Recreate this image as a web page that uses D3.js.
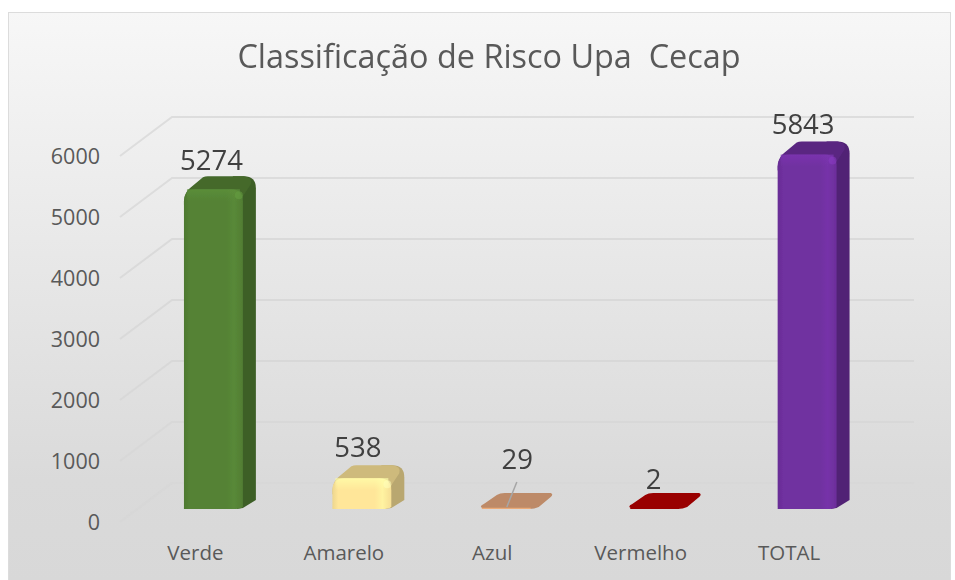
<!DOCTYPE html>
<html><head><meta charset="utf-8">
<script src="https://cdn.jsdelivr.net/npm/d3@7/dist/d3.min.js"></script>
<style>html,body{margin:0;padding:0;background:#fff}svg{display:block}text{font-family:"Open Sans",sans-serif}</style>
</head><body><div id="c"></div>
<script>
const categories=["Verde","Amarelo","Azul","Vermelho","TOTAL"];
const values=[5274,538,29,2,5843];
const yTicks=[0,1000,2000,3000,4000,5000,6000];
const frontColors=["#548235","#FFE699","#E09E6E","#990000","#7030A0"];
const titleText="Classificação de Risco Upa  Cecap";
const W=955,H=580;
const svg=d3.select("#c").append("svg").attr("width",W).attr("height",H);
const defs=svg.append("defs");
const bg=defs.append("linearGradient").attr("id","bg").attr("x1",0).attr("y1",0).attr("x2",0).attr("y2",1);
bg.append("stop").attr("offset",0).attr("stop-color","#f7f7f7");
bg.append("stop").attr("offset",0.82).attr("stop-color","#dadada");
bg.append("stop").attr("offset",1).attr("stop-color","#d8d8d8");
defs.append("filter").attr("id","soft").append("feGaussianBlur").attr("stdDeviation",0.7);
svg.append("rect").attr("x",8.5).attr("y",12.5).attr("width",942).attr("height",570).attr("fill","url(#bg)").attr("stroke","#dcdcdc");

const x=d3.scaleBand().domain(categories).range([109.75,910.8]).paddingInner(0.603).paddingOuter(0.5);
const y=d3.scaleLinear().domain([0,6000]).range([509,143]);
const dx=13,dy=-11;

const grid=svg.append("g");
grid.selectAll("path").data(yTicks).join("path")
 .attr("fill","none").attr("stroke",d=>d3.interpolateRgb("#d5d5d5","#dddddd")(d/6000))
 .attr("stroke-width",2)
 .attr("opacity",d=>d===0?0.5:d===1000?0.7:1)
 .attr("d",d=>{const v=y(d);return d3.line()([[120,v+13],[172,v-26],[914,v-26]]);});

const axis=d3.axisLeft(y).tickValues(yTicks).tickSize(0).tickPadding(0).tickFormat(d3.format("d"));
const ga=svg.append("g").attr("transform","translate(100,13)").call(axis);
ga.select(".domain").remove();
ga.selectAll("text").attr("font-size",21.5).attr("fill","#595959").attr("dy","0.36em");

svg.append("g").selectAll("text").data(categories).join("text")
 .attr("x",d=>x(d)+x.bandwidth()/2-18).attr("y",560).attr("text-anchor","middle")
 .attr("font-size",20.5).attr("fill","#595959").text(d=>d);

categories.forEach((c,i)=>{
  const col=d3.color(frontColors[i]);
  const g=defs.append("linearGradient").attr("id","f"+i);
  g.append("stop").attr("offset",0).attr("stop-color",col.darker(0.2));
  g.append("stop").attr("offset",0.1).attr("stop-color",col);
  g.append("stop").attr("offset",0.72).attr("stop-color",col);
  g.append("stop").attr("offset",0.85).attr("stop-color",col.brighter(0.15));
  g.append("stop").attr("offset",1).attr("stop-color",col.darker(0.1));
  const t=defs.append("linearGradient").attr("id","t"+i).attr("x1",0).attr("y1",0).attr("x2",0).attr("y2",1);
  t.append("stop").attr("offset",0).attr("stop-color",col.brighter(0.3)).attr("stop-opacity",0.75);
  t.append("stop").attr("offset",1).attr("stop-color",col.brighter(0.3)).attr("stop-opacity",0);
});
const bars=svg.append("g").attr("filter","url(#soft)").selectAll("g").data(categories).join("g");
bars.each(function(c,i){
  const s=d3.select(this), v=values[i], col=d3.color(frontColors[i]);
  const x0=x(c), x1=x0+x.bandwidth(), yb=y(0), yt=y(v);
  const h=yb-yt;
  if(h>8){
    const r=Math.min(12,h/2), R=12, T=yt+dy;
    s.append("path").attr("fill",col.darker(0.9)).attr("d",
      `M${x1-6},${yb} L${x1},${yb-1} L${x1+dx},${yb+dy+2} L${x1+dx},${T+R} Q${x1+dx},${T} ${x1+dx-R},${T} L${x1-10},${T} L${x1-10},${yt+4} Z`);
    s.append("path").attr("fill",col.darker(0.6)).attr("d",
      `M${x0},${yt+r+2} Q${x0+1},${yt+4} ${x0+7},${yt} L${x0+19},${T+1} Q${x0+21},${T} ${x0+24},${T} L${x1+dx-R},${T} Q${x1+dx-3},${T+1} ${x1+dx-5},${T+8} L${x1},${yt+9} L${x1},${yt+r} L${x0},${yt+r+6} Z`);
    s.append("path").attr("fill",`url(#f${i})`).attr("d",
      `M${x0},${yb} L${x0},${yt+r+2} Q${x0},${yt+2} ${x0+r},${yt+2} L${x1-r},${yt+2} Q${x1},${yt+2} ${x1},${yt+r+2} L${x1},${yb-2} Q${x1-3},${yb} ${x1-10},${yb} Z`);
    s.append("rect").attr("x",x0+3).attr("y",yt+2).attr("width",x.bandwidth()-6).attr("height",Math.min(12,h-3)).attr("fill",`url(#t${i})`);
    s.append("circle").attr("cx",x1-4).attr("cy",yt+8).attr("r",4).attr("fill",col.brighter(0.6)).attr("opacity",0.5);
  } else {
    const top=yb-16;
    s.append("path").attr("fill",i===2?"#BD8A67":"#990000").attr("d",
      `M${x0},${yb-2} Q${x0},${yb-4} ${x0+3},${yb-5} L${x0+16},${top+2} Q${x0+19},${top} ${x0+24},${top} L${x1+dx-2},${top} Q${x1+dx+1},${top+1} ${x1+dx-2},${top+4} L${x1+dx-14},${yb-2} Q${x1+dx-18},${yb} ${x1+dx-24},${yb} L${x0+3},${yb} Z`);
    s.append("path").attr("fill","none").attr("stroke",i===2?"#EBAA78":"#990000").attr("stroke-width",1.2)
      .attr("d",`M${x0+1},${yb-0.6} L${x1+dx-22},${yb-0.6}`);
  }
});

const azX=x("Azul");
svg.append("line").attr("x1",azX+26).attr("y1",507).attr("x2",azX+36).attr("y2",482).attr("stroke","#a6a6a6").attr("stroke-width",1.5);

svg.append("g").selectAll("text").data(values).join("text")
 .attr("x",(d,i)=>x(categories[i])+x.bandwidth()/2+[-2,-4,7,-5,-4][i])
 .attr("y",(d,i)=>y(d)+[-17,-19,-38,-20,-19][i])
 .attr("text-anchor","middle").attr("font-size",27.5).attr("fill","#404040").text(d=>d);

svg.append("text").attr("x",489).attr("y",68).attr("text-anchor","middle")
 .attr("font-size",32.4).attr("fill","#595959").style("white-space","pre").text(titleText);
</script></body></html>
